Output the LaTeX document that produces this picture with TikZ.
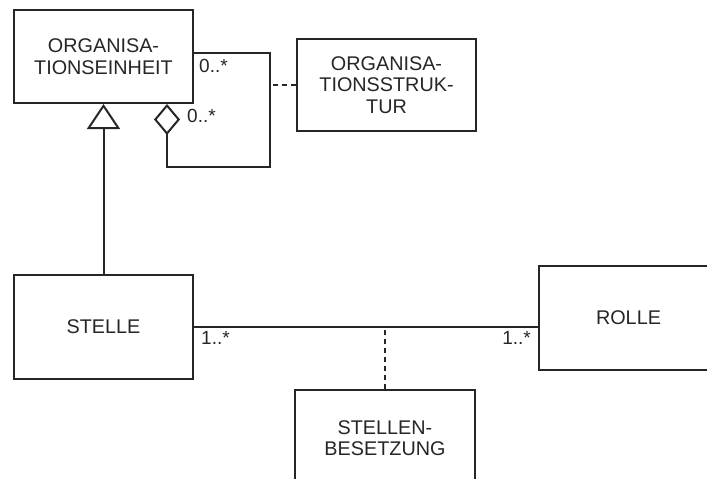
\documentclass[tikz,border=0pt]{standalone}
\usepackage{fontspec}
\setmainfont{Liberation Sans}
\usetikzlibrary{positioning,arrows.meta}

\begin{document}
\begin{tikzpicture}[
  x=1pt, y=-1pt,
  font=\fontsize{19.8}{21.5}\selectfont,
  cls/.style={rectangle, draw=black!85, line width=2pt, minimum width=179pt,
              minimum height=93pt, inner sep=3pt, align=center, text=black!85},
  tall/.style={cls, minimum height=104pt},
  mult/.style={inner sep=0pt, text=black!85, font=\fontsize{19}{20}\selectfont},
  lnk/.style={draw=black!85, line width=2pt},
  dsh/.style={lnk, dash pattern=on 5pt off 4pt},
  gen/.style={lnk, -{Triangle[open, length=25pt, width=33pt]}},
  agg/.style={lnk, -{Diamond[open, length=31pt, width=26pt]}}
]
\useasboundingbox (0,0) rectangle (707,479);
\clip (0,0) rectangle (707,479);

\node[cls] (orgeinheit) at (103.5,56.5) {ORGANISA-\\TIONSEINHEIT};
\node[cls, minimum height=92pt] (orgstruktur) at (386.5,85) {ORGANISA-\\TIONSSTRUK-\\TUR};
\node[tall] (stelle) at (103.5,327) {STELLE};
\node[tall] (rolle) at (628.5,318) {ROLLE};
\node[cls, minimum width=180pt, minimum height=96pt] (besetzung) at (385,438) {STELLEN-\\BESETZUNG};

\node[mult, anchor=west] (mOben)   at (199,66)  {0..*};
\node[mult, anchor=west] (mRaute)  at (187,116) {0..*};
\node[mult, anchor=west] (mStelle) at (201,338) {1..*};
\node[mult, anchor=east] (mRolle)  at (531,338) {1..*};

% Aggregation der Organisationseinheit auf sich selbst
\coordinate (loop) at (270,167);
\draw[agg] ([yshift=3.5pt]orgeinheit.east) -| (loop) -| ([xshift=63.5pt]orgeinheit.south);
\draw[dsh] (orgstruktur.west) -- (orgstruktur.west -| loop);

\draw[gen] (stelle.north) -- (orgeinheit.south);
\draw[lnk] (stelle.east) -- (stelle.east -| rolle.west);
\draw[dsh] (besetzung.north) -- (besetzung.north |- stelle.east);
\end{tikzpicture}
\end{document}
